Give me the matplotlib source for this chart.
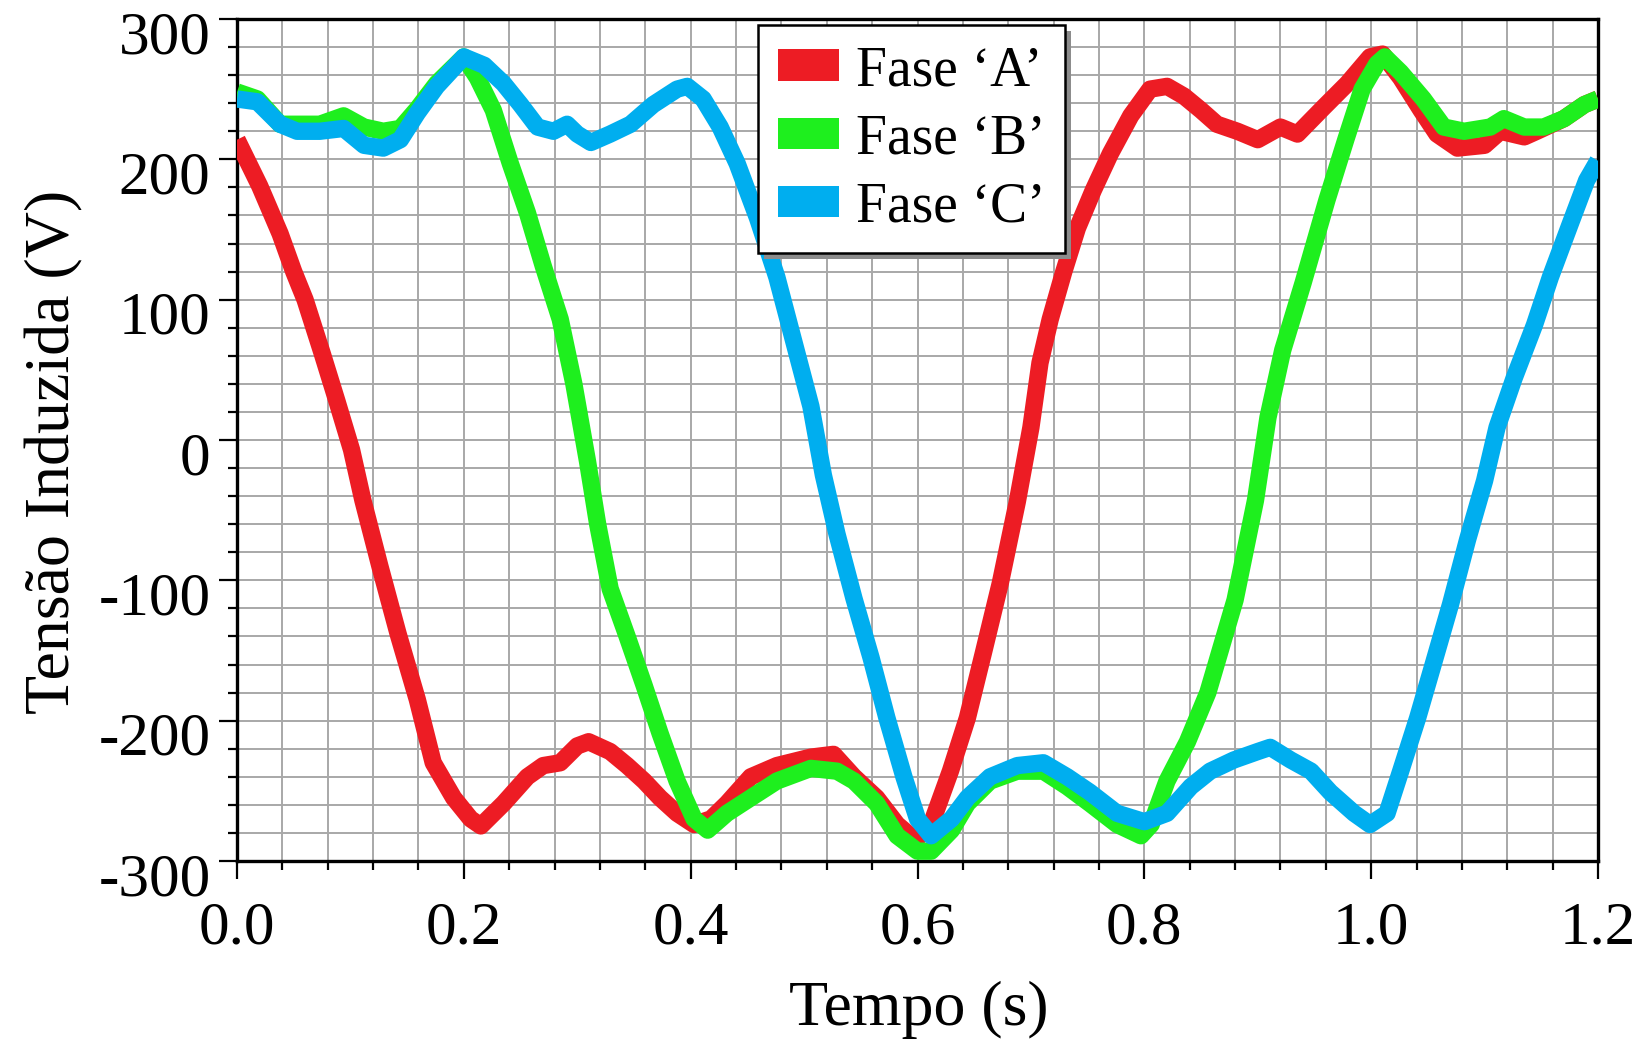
import matplotlib
matplotlib.use("Agg")
import matplotlib.pyplot as plt
from matplotlib.patches import Patch, Rectangle
from matplotlib.ticker import MultipleLocator, FormatStrFormatter
from matplotlib.transforms import ScaledTranslation

# Induced voltage of the three phases (V) versus time (s)
t_a = [0.000, 0.020, 0.038, 0.050, 0.060, 0.075, 0.088, 0.101, 0.111, 0.126,
       0.142, 0.159, 0.173, 0.191, 0.206, 0.215, 0.235, 0.256, 0.270, 0.285,
       0.300, 0.310, 0.329, 0.344, 0.359, 0.373, 0.388, 0.403, 0.418, 0.432,
       0.453, 0.476, 0.506, 0.526, 0.544, 0.564, 0.582, 0.598, 0.612, 0.629,
       0.644, 0.658, 0.673, 0.688, 0.700, 0.708, 0.717, 0.729, 0.741, 0.755,
       0.770, 0.788, 0.805, 0.820, 0.835, 0.850, 0.864, 0.882, 0.900, 0.920,
       0.935, 0.958, 0.979, 0.999, 1.010, 1.026, 1.044, 1.058, 1.076, 1.100,
       1.114, 1.135, 1.146, 1.170, 1.188, 1.200]
v_a = [214, 181, 147, 120, 100, 62, 28, -7, -43, -90,
       -138, -185, -230, -255, -270, -275, -259, -240, -232, -230,
       -218, -215, -222, -232, -243, -255, -266, -274, -270, -259,
       -240, -232, -226, -224, -240, -255, -274, -285, -274, -236,
       -198, -152, -102, -44, 9, 55, 86, 120, 151, 178,
       204, 231, 250, 252, 245, 235, 225, 220, 214, 223,
       218, 237, 254, 273, 275, 258, 235, 218, 208, 210,
       220, 216, 220, 229, 239, 243]

t_b = [0.000, 0.018, 0.038, 0.073, 0.094, 0.112, 0.129, 0.144, 0.159, 0.176,
       0.200, 0.212, 0.226, 0.241, 0.256, 0.270, 0.285, 0.297, 0.309, 0.318,
       0.329, 0.344, 0.359, 0.373, 0.388, 0.403, 0.415, 0.432, 0.453, 0.476,
       0.506, 0.529, 0.544, 0.564, 0.582, 0.600, 0.612, 0.630, 0.644, 0.664,
       0.688, 0.711, 0.732, 0.752, 0.776, 0.797, 0.806, 0.820, 0.838, 0.856,
       0.880, 0.898, 0.909, 0.922, 0.940, 0.961, 0.978, 0.992, 1.005, 1.012,
       1.026, 1.046, 1.064, 1.082, 1.105, 1.117, 1.135, 1.152, 1.170, 1.188,
       1.200]
v_b = [248, 243, 225, 225, 231, 223, 220, 222, 236, 254,
       273, 258, 235, 197, 162, 124, 86, 40, -15, -60,
       -106, -140, -175, -209, -243, -270, -278, -266, -255, -243,
       -234, -236, -243, -259, -282, -293, -293, -278, -259, -243,
       -236, -236, -247, -259, -274, -282, -274, -243, -215, -180,
       -114, -43, 16, 64, 112, 171, 215, 250, 268, 273,
       262, 243, 223, 220, 223, 229, 223, 223, 229, 239,
       243]

t_c = [0.000, 0.018, 0.038, 0.053, 0.073, 0.094, 0.112, 0.129, 0.144, 0.159,
       0.176, 0.200, 0.218, 0.235, 0.250, 0.265, 0.279, 0.291, 0.300, 0.312,
       0.329, 0.347, 0.367, 0.388, 0.397, 0.411, 0.426, 0.441, 0.459, 0.476,
       0.491, 0.506, 0.517, 0.529, 0.544, 0.559, 0.573, 0.588, 0.600, 0.612,
       0.630, 0.644, 0.664, 0.688, 0.711, 0.732, 0.752, 0.776, 0.800, 0.820,
       0.841, 0.858, 0.879, 0.900, 0.911, 0.929, 0.947, 0.964, 0.985, 0.999,
       1.014, 1.026, 1.041, 1.055, 1.070, 1.085, 1.100, 1.111, 1.126, 1.144,
       1.158, 1.176, 1.190, 1.200]
v_c = [243, 241, 225, 220, 220, 222, 210, 208, 214, 233,
       252, 273, 267, 254, 239, 223, 220, 225, 218, 212,
       218, 225, 239, 250, 252, 243, 223, 197, 158, 116,
       70, 24, -25, -67, -113, -155, -198, -240, -270, -282,
       -270, -255, -240, -232, -230, -240, -251, -266, -272, -266,
       -247, -236, -228, -222, -219, -228, -236, -251, -266, -274,
       -266, -236, -198, -159, -117, -71, -29, 9, 44, 82,
       116, 155, 185, 199]

series_labels = ["Fase \u2018A\u2019", "Fase \u2018B\u2019", "Fase \u2018C\u2019"]
series_colors = ["#ED1C24", "#1EEF1E", "#00AEEF"]

x_ticks = [0.0, 0.2, 0.4, 0.6, 0.8, 1.0, 1.2]
y_ticks = [-300, -200, -100, 0, 100, 200, 300]

plt.rcParams["font.family"] = ["Liberation Serif", "DejaVu Serif"]
plt.rcParams["axes.unicode_minus"] = False

W, H = 1643, 1039
fig = plt.figure(figsize=(W / 100, H / 100), dpi=100)
ax = fig.add_axes([237 / W, 1 - 861 / H, (1598 - 237) / W, (861 - 19) / H])

for tt, vv, col in zip([t_a, t_b, t_c], [v_a, v_b, v_c], series_colors):
    ax.plot(tt, vv, color=col, lw=12.5, solid_joinstyle="round",
            solid_capstyle="butt", zorder=3)

ax.set_xlim(0, 1.2)
ax.set_ylim(-300, 300)
ax.set_xticks(x_ticks)
ax.set_yticks(y_ticks)
ax.xaxis.set_major_formatter(FormatStrFormatter("%.1f"))
ax.xaxis.set_minor_locator(MultipleLocator(0.04))
ax.yaxis.set_minor_locator(MultipleLocator(20))

ax.grid(True, which="both", color="#a8a8a8", lw=1.4, zorder=0)
ax.set_axisbelow(True)

for sp in ax.spines.values():
    sp.set_linewidth(2.4)
    sp.set_color("black")

ax.tick_params(axis="both", which="major", direction="out", length=13,
               width=1.6, labelsize=44, color="black")
ax.tick_params(axis="both", which="minor", direction="out", length=6.5,
               width=1.6, color="black")
ax.tick_params(axis="x", which="major", pad=16)
ax.tick_params(axis="y", which="major", pad=6)

# y tick labels sit a little below their ticks
shift = ScaledTranslation(0, -0.13, fig.dpi_scale_trans)
for lbl in ax.get_yticklabels():
    lbl.set_transform(lbl.get_transform() + shift)

fig.text(919 / W, 1 - 1025 / H, "Tempo (s)", fontsize=46,
         ha="center", va="baseline")
fig.text(69 / W, 1 - 452 / H, "Tensão Induzida (V)", fontsize=46,
         ha="center", va="baseline", rotation=90, rotation_mode="anchor")

handles = [Patch(facecolor=c, edgecolor="none") for c in series_colors]
leg = ax.legend(handles, series_labels, loc="upper left",
                bbox_to_anchor=(758 / W, 1 - 25 / H),
                bbox_transform=fig.transFigure, borderaxespad=0,
                fontsize=40, frameon=True, fancybox=False, shadow=False,
                handlelength=1.1, handleheight=0.5, handletextpad=0.3,
                labelspacing=0.29, borderpad=0.36)
leg.get_frame().set_edgecolor("black")
leg.get_frame().set_linewidth(1.8)
leg.get_frame().set_alpha(1)
leg.set_zorder(6)

# drop shadow behind the legend box
fig.canvas.draw()
bb = leg.get_window_extent()
off = 6
shadow = Rectangle(((bb.x0 + off) / W, (bb.y0 - off) / H), bb.width / W,
                   bb.height / H, transform=fig.transFigure,
                   facecolor="#8c8c8c", edgecolor="none", zorder=5)
ax.add_artist(shadow)
shadow.set_clip_on(False)

fig.savefig("out.png", dpi=100, facecolor="white")
